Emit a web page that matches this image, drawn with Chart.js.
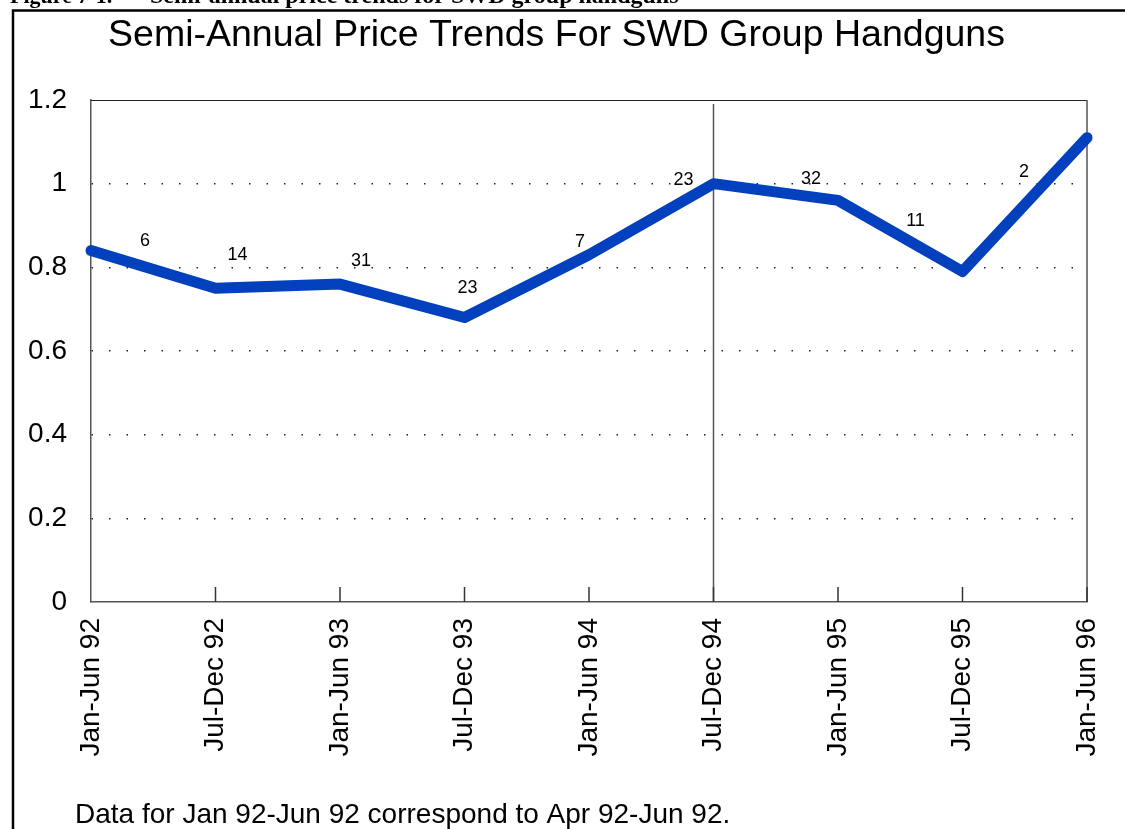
<!DOCTYPE html>
<html>
<head>
<meta charset="utf-8">
<script src="https://cdn.jsdelivr.net/npm/chart.js@4.4.0/dist/chart.umd.min.js"></script>
<style>
  html, body { margin: 0; padding: 0; background: #fff; }
  #wrap { width: 1125px; height: 829px; }
</style>
</head>
<body>
<div id="wrap"><canvas id="priceChart" width="1125" height="829"></canvas></div>
<script>
const periods = ['Jan-Jun 92', 'Jul-Dec 92', 'Jan-Jun 93', 'Jul-Dec 93', 'Jan-Jun 94', 'Jul-Dec 94', 'Jan-Jun 95', 'Jul-Dec 95', 'Jan-Jun 96'];
const priceIndex = [0.84, 0.75, 0.76, 0.68, 0.83, 1.00, 0.96, 0.79, 1.11];
const sampleCounts = [6, 14, 31, 23, 7, 23, 32, 11, 2];
const yTicks = [0, 0.2, 0.4, 0.6, 0.8, 1, 1.2];
const dividerPeriod = 'Jul-Dec 94';
const figureNo = 'Figure 7-1.';
const figureTitle = 'Semi-annual price trends for SWD group handguns';
const chartTitle = 'Semi-Annual Price Trends For SWD Group Handguns';
const footnote = 'Data for Jan 92-Jun 92 correspond to Apr 92-Jun 92.';

Chart.defaults.font.family = '"Liberation Sans", Arial, sans-serif';
Chart.defaults.color = '#000';

// frame, caption, inward ticks, divider, counts and footnote
const decorations = {
  id: 'decorations',
  beforeDraw(chart) {
    const ctx = chart.ctx;
    ctx.save();
    ctx.fillStyle = '#fff';
    ctx.fillRect(0, 0, chart.width, chart.height);
    ctx.fillStyle = '#000';
    ctx.textBaseline = 'alphabetic';
    ctx.font = 'bold 22px "Liberation Serif", serif';
    ctx.fillText(figureNo, 10, 3);
    ctx.font = 'bold 24px "Liberation Serif", serif';
    ctx.fillText(figureTitle, 150, 3);
    ctx.strokeStyle = '#000';
    ctx.lineWidth = 2.5;
    ctx.beginPath();
    ctx.moveTo(13, chart.height);
    ctx.lineTo(13, 10.5);
    ctx.lineTo(chart.width, 10.5);
    ctx.stroke();
    ctx.restore();
  },
  beforeDatasetsDraw(chart) {
    const {ctx, chartArea: a, scales: {x}} = chart;
    const px = x.getPixelForValue(periods.indexOf(dividerPeriod));
    ctx.save();
    ctx.strokeStyle = '#555';
    ctx.lineWidth = 1.5;
    ctx.beginPath();
    ctx.moveTo(px, a.top + 4);
    ctx.lineTo(px, a.bottom);
    ctx.stroke();
    // top and right edge of the plot box
    ctx.strokeStyle = '#222';
    ctx.lineWidth = 1;
    ctx.beginPath();
    ctx.moveTo(a.left, a.top + 0.5);
    ctx.lineTo(a.right, a.top + 0.5);
    ctx.stroke();
    ctx.strokeStyle = '#555';
    ctx.lineWidth = 1.5;
    ctx.beginPath();
    ctx.moveTo(a.right, a.top);
    ctx.lineTo(a.right, a.bottom);
    ctx.stroke();
    ctx.strokeStyle = '#333';
    for (let i = 1; i < periods.length; i++) {
      const tx = x.getPixelForValue(i);
      ctx.beginPath();
      ctx.moveTo(tx, a.bottom);
      ctx.lineTo(tx, a.bottom - 15);
      ctx.stroke();
    }
    ctx.restore();
  },
  afterDraw(chart, args, opts) {
    const ctx = chart.ctx;
    const pts = chart.getDatasetMeta(0).data;
    ctx.save();
    ctx.fillStyle = '#000';
    ctx.font = '18px "Liberation Sans", Arial, sans-serif';
    ctx.textAlign = 'center';
    ctx.textBaseline = 'middle';
    sampleCounts.forEach((n, i) => {
      const [dx, dy] = opts.offsets[i];
      ctx.fillText(String(n), pts[i].x + dx, pts[i].y + dy);
    });
    ctx.font = '28px "Liberation Sans", Arial, sans-serif';
    ctx.textAlign = 'left';
    ctx.fillText(footnote, 75, chart.height - 14);
    ctx.restore();
  }
};

new Chart(document.getElementById('priceChart'), {
  type: 'line',
  data: {
    labels: periods,
    datasets: [{
      label: 'Price index',
      data: priceIndex,
      borderColor: '#0240BE',
      borderWidth: 11,
      borderCapStyle: 'round',
      borderJoinStyle: 'round',
      pointRadius: 0,
      tension: 0,
      clip: false
    }]
  },
  options: {
    responsive: false,
    animation: false,
    layout: { padding: { left: 26, right: 38, top: 0, bottom: 0 } },
    scales: {
      x: {
        offset: false,
        grid: { display: false },
        border: { color: '#555', width: 1.5 },
        ticks: {
          autoSkip: false,
          minRotation: 90,
          maxRotation: 90,
          padding: 8,
          font: { size: 28 }
        },
        afterFit: s => { s.height = 227; s.paddingLeft = 0; s.paddingRight = 0; }
      },
      y: {
        min: 0,
        max: 1.2,
        afterBuildTicks: s => { s.ticks = yTicks.map(v => ({ value: v })); },
        grid: {
          drawTicks: false,
          lineWidth: 1.5,
          color: c => (c.tick && (c.tick.value === 0 || c.tick.value === 1.2)) ? 'rgba(0,0,0,0)' : '#222'
        },
        border: { color: '#555', width: 1.5, dash: [1.5, 16] },
        ticks: {
          padding: 24,
          font: { size: 28 },
          callback: v => String(+Number(v).toFixed(1))
        },
        afterFit: s => { s.width = 65; }
      }
    },
    plugins: {
      legend: { display: false },
      tooltip: { enabled: false },
      title: {
        display: true,
        text: chartTitle,
        color: '#000',
        font: { size: 37.5, weight: 'normal' },
        padding: { top: 13, bottom: 42 }
      },
      decorations: {
        offsets: [[54, -10], [22, -33], [21, -23], [3, -30], [-9, -13], [-30, -4], [-27, -21], [-47, -50], [-63, 34]]
      }
    }
  },
  plugins: [decorations]
});
</script>
</body>
</html>
